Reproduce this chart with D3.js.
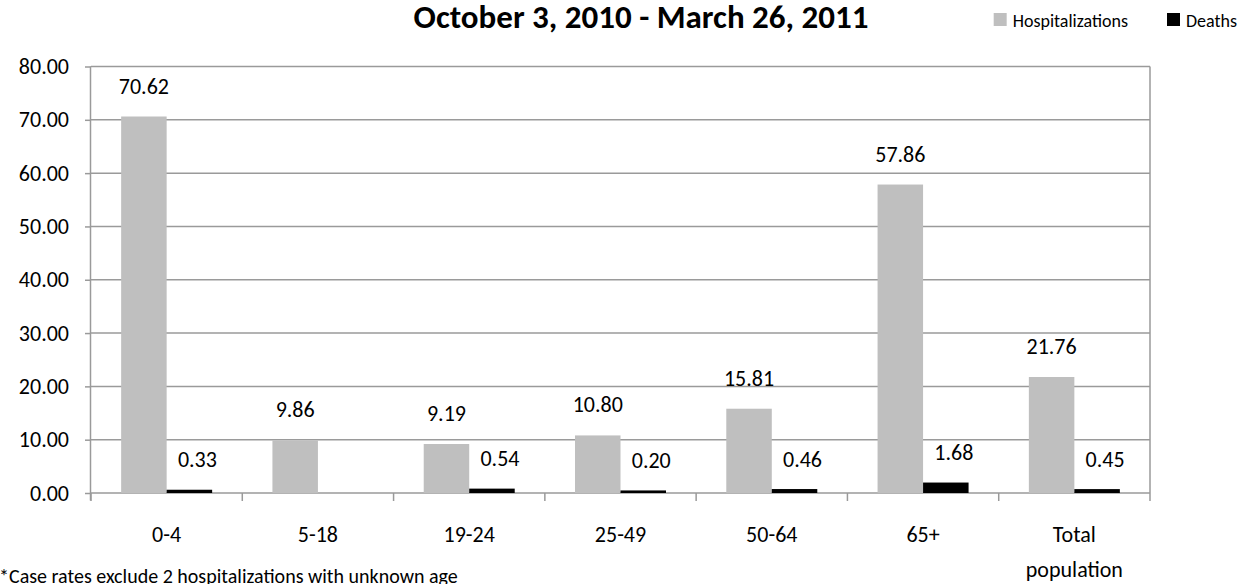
<!DOCTYPE html>
<html>
<head>
<meta charset="utf-8">
<script src="https://cdn.jsdelivr.net/npm/d3@7"></script>
<style>
  html, body { margin: 0; padding: 0; background: #fff; }
  svg { display: block; font-family: Carlito, Lato, "Open Sans", sans-serif; }
</style>
</head>
<body>
<svg id="chart" width="1252" height="584"></svg>
<script>
// Rates by age group
const categories = ["0-4", "5-18", "19-24", "25-49", "50-64", "65+", "Total population"];
const hospitalizations = [70.62, 9.86, 9.19, 10.80, 15.81, 57.86, 21.76];
const deaths = [0.33, null, 0.54, 0.20, 0.46, 1.68, 0.45];
const yTicks = [0, 10, 20, 30, 40, 50, 60, 70, 80];
const seriesNames = ["Hospitalizations", "Deaths"];
const seriesColors = ["#bfbfbf", "#000000"];

const svg = d3.select("#chart");
const plot = { left: 91, right: 1150, top: 66.5, bottom: 493 };

const x = d3.scaleBand().domain(categories).range([plot.left, plot.right])
  .paddingInner(0.4).paddingOuter(0.2);
const y = d3.scaleLinear().domain([0, 80]).range([plot.bottom, plot.top]);
const barW = 45.5;
const band = (plot.right - plot.left) / categories.length;

const gridColor = "#9a9a9a";

// Horizontal gridlines
svg.append("g").selectAll("line").data(yTicks.filter(d => d > 0)).join("line")
  .attr("x1", plot.left).attr("x2", plot.right)
  .attr("y1", d => y(d)).attr("y2", d => y(d))
  .attr("stroke", gridColor).attr("stroke-width", 1.5);

// Right border of the plot area
svg.append("line")
  .attr("x1", plot.right).attr("x2", plot.right)
  .attr("y1", plot.top).attr("y2", plot.bottom)
  .attr("stroke", gridColor).attr("stroke-width", 1.5);

// Y axis
const yAxis = d3.axisLeft(y).tickValues(yTicks).tickFormat(d3.format(".2f")).tickSize(6).tickPadding(16);
const gy = svg.append("g").attr("transform", `translate(${plot.left},0)`).call(yAxis);
gy.select(".domain").attr("stroke", gridColor).attr("stroke-width", 1.5)
  .attr("d", `M-0.5,${plot.top}V${plot.bottom + 7.5}`);
gy.selectAll(".tick line").attr("stroke", gridColor).attr("stroke-width", 1.5);
gy.selectAll(".tick text").attr("font-size", 22).attr("fill", "#000")
  .style("font-family", "Carlito, Lato, sans-serif");

// X axis with tick marks at category boundaries
const gx = svg.append("g").attr("transform", `translate(0,${plot.bottom})`);
gx.append("line").attr("x1", plot.left).attr("x2", plot.right)
  .attr("stroke", gridColor).attr("stroke-width", 1.5);
gx.selectAll("line.tk").data(d3.range(categories.length + 1)).join("line")
  .attr("class", "tk")
  .attr("x1", i => plot.left + i * band).attr("x2", i => plot.left + i * band)
  .attr("y1", 0).attr("y2", 8)
  .attr("stroke", gridColor).attr("stroke-width", 1.5);

// Category labels (wrapped onto two lines where needed)
const catLabels = svg.append("g").selectAll("text").data(categories).join("text")
  .attr("x", d => x(d) + x.bandwidth() / 2)
  .attr("y", 542)
  .attr("text-anchor", "middle")
  .attr("font-size", 22)
  .attr("fill", "#000");
catLabels.each(function(d) {
  const words = d.split(" ");
  const t = d3.select(this);
  words.forEach((w, i) => {
    t.append("tspan").attr("x", x(d) + x.bandwidth() / 2).attr("dy", i === 0 ? 0 : 35).text(w);
  });
});

// Bars
const cx = d => x(d) + x.bandwidth() / 2;
const gBars = svg.append("g");
gBars.selectAll("rect.h").data(categories).join("rect")
  .attr("class", "h")
  .attr("x", d => cx(d) - barW)
  .attr("width", barW)
  .attr("y", (d, i) => y(hospitalizations[i]))
  .attr("height", (d, i) => y(0) - y(hospitalizations[i]))
  .attr("fill", seriesColors[0]);

const deathData = categories.map((c, i) => ({ c, v: deaths[i] })).filter(d => d.v !== null);
gBars.selectAll("rect.d").data(deathData).join("rect")
  .attr("class", "d")
  .attr("x", d => cx(d.c))
  .attr("width", barW)
  .attr("y", d => y(d.v) - 1.5)
  .attr("height", d => y(0) - y(d.v) + 1.5)
  .attr("fill", seriesColors[1]);

// Value labels
const gLabels = svg.append("g").attr("font-size", 22).attr("fill", "#000").attr("text-anchor", "middle");
gLabels.selectAll("text.h").data(categories).join("text")
  .attr("class", "h")
  .attr("x", d => cx(d) - barW / 2)
  .attr("y", (d, i) => y(hospitalizations[i]) - 23)
  .text((d, i) => d3.format(".2f")(hospitalizations[i]));
gLabels.selectAll("text.d").data(deathData).join("text")
  .attr("class", "d")
  .attr("x", d => cx(d.c) + barW / 2 + 8)
  .attr("y", d => y(d.v) - 24)
  .text(d => d3.format(".2f")(d.v));

// Title
svg.append("text")
  .attr("x", 641).attr("y", 28)
  .attr("text-anchor", "middle")
  .attr("font-size", 33).attr("font-weight", "bold")
  .attr("fill", "#000")
  .text("October 3, 2010 - March 26, 2011");

// Legend: "Deaths" entry sits at the right, "Hospitalizations" ends before it
const legend = svg.append("g").attr("font-size", 18).attr("fill", "#000");
legend.append("text").attr("x", 1186).attr("y", 27).text(seriesNames[1]);
legend.append("rect").attr("x", 1167).attr("y", 13).attr("width", 13).attr("height", 13)
  .attr("fill", seriesColors[1]);
const hospText = legend.append("text").attr("x", 1128).attr("y", 27)
  .attr("text-anchor", "end").text(seriesNames[0]);
const hospStart = 1128 - hospText.node().getComputedTextLength();
legend.append("rect").attr("x", hospStart - 19).attr("y", 13).attr("width", 13).attr("height", 13)
  .attr("fill", seriesColors[0]);

// Footnote
svg.append("text")
  .attr("x", -1).attr("y", 583)
  .attr("font-size", 20).attr("fill", "#000")
  .text("*Case rates exclude 2 hospitalizations with unknown age");
</script>
</body>
</html>
